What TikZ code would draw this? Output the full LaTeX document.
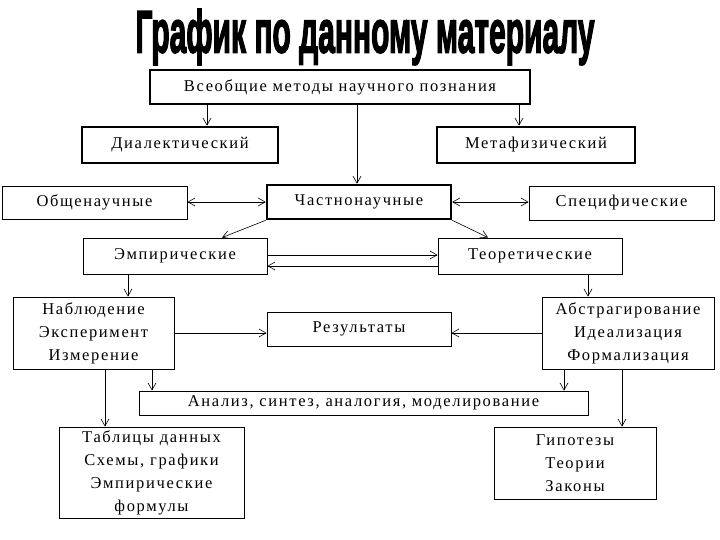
\documentclass[tikz,border=0pt]{standalone}
\usepackage{fontspec}
\setmainfont{Liberation Serif}[LetterSpace=10]
\newfontfamily\titlefont{Liberation Sans}[BoldFeatures={FakeBold=3}]
\usetikzlibrary{arrows.meta}

\begin{document}
\begin{tikzpicture}[x=1pt, y=-1pt, >={Straight Barb[length=7pt,width=8pt]}, semithick,
          method/.style={draw, line width=0.9pt, inner sep=0pt, align=center,
                         font=\fontsize{16.5}{23}\selectfont},
          key/.style={method, line width=2.6pt},
          heading/.style={inner sep=0pt, font=\titlefont\bfseries\fontsize{40}{40}\selectfont}
        ]
        \useasboundingbox (0,0) rectangle (720,540);

        \node[heading] (title) at (365,37) {\scalebox{0.75}[1.5]{График по данному материалу}};

        \node[key, minimum width=380pt, minimum height=34pt] (vseob) at (340,87) {Всеобщие методы научного познания};
        \node[key, minimum width=196pt, minimum height=36pt] (dialekt) at (180,145) {Диалектический};
        \node[key, minimum width=198pt, minimum height=36pt] (metafiz) at (536,145) {Метафизический};

        \node[method, minimum width=185pt, minimum height=33pt] (obsch) at (94.5,202.5) {Общенаучные};
        \node[key, minimum width=184pt, minimum height=34pt] (chastn) at (359,202) {Частнонаучные};
        \node[method, minimum width=185pt, minimum height=34pt] (specif) at (621.5,203) {Специфические};

        \node[method, minimum width=184pt, minimum height=36pt] (empir) at (175,256) {Эмпирические};
        \node[method, minimum width=184pt, minimum height=36pt] (teor) at (530,256) {Теоретические};

        \node[method, minimum width=161pt, minimum height=72pt] (nabl) at (93.5,333) {Наблюдение\\Эксперимент\\Измерение};
        \node[method, minimum width=184pt, minimum height=34pt] (rezult) at (359,329) {Результаты};
        \node[method, minimum width=172pt, minimum height=72pt] (abstr) at (628,333) {Абстрагирование\\Идеализация\\Формализация};

        \node[method, minimum width=449pt, minimum height=24pt] (analiz) at (363.5,403) {Анализ, синтез, аналогия, моделирование};

        \node[method, minimum width=185pt, minimum height=91pt] (tablic) at (151.5,472.5) {Таблицы данных\\Схемы, графики\\Эмпирические\\формулы};
        \node[method, minimum width=162pt, minimum height=72pt] (gipot) at (575,463) {Гипотезы\\Теории\\Законы};

        % from the top
        \draw[->] ([xshift=27pt]dialekt.north |- vseob.south) -- ([xshift=27pt]dialekt.north);
        \draw[->] ([xshift=-17pt]metafiz.north |- vseob.south) -- ([xshift=-17pt]metafiz.north);
        \draw[->] ([xshift=-2pt]chastn.north |- vseob.south) -- ([xshift=-2pt]chastn.north);

        \draw[<->] (obsch.east |- chastn.west) -- (chastn.west);
        \draw[<->] (chastn.east) -- (chastn.east -| specif.west);
        \draw[->] (chastn.south west) -- ([xshift=47pt]empir.north);
        \draw[->] (chastn.south east) -- ([xshift=-42pt]teor.north);

        % double link
        \draw[->] ([yshift=1pt]empir.east) -- ([yshift=1pt]teor.west);
        \draw[->] ([yshift=-10pt]teor.west) -- ([yshift=-10pt]empir.east);

        \draw[->] ([xshift=-47pt]empir.south) -- ([xshift=-47pt]empir.south |- nabl.north);
        \draw[->] ([xshift=58pt]teor.south) -- ([xshift=58pt]teor.south |- abstr.north);

        \draw[->] (nabl.east) -- (nabl.east -| rezult.west);
        \draw[->] (abstr.west) -- (abstr.west -| rezult.east);

        % to the bottom
        \draw[->] ([xshift=58.5pt]nabl.south) -- ([xshift=58.5pt]nabl.south |- analiz.north);
        \draw[->] ([xshift=-64pt]abstr.south) -- ([xshift=-64pt]abstr.south |- analiz.north);
        \draw[->] ([xshift=11.5pt]nabl.south) -- ([xshift=11.5pt]nabl.south |- tablic.north);
        \draw[->] ([xshift=-6pt]abstr.south) -- ([xshift=-6pt]abstr.south |- gipot.north);
      \end{tikzpicture}
\end{document}
